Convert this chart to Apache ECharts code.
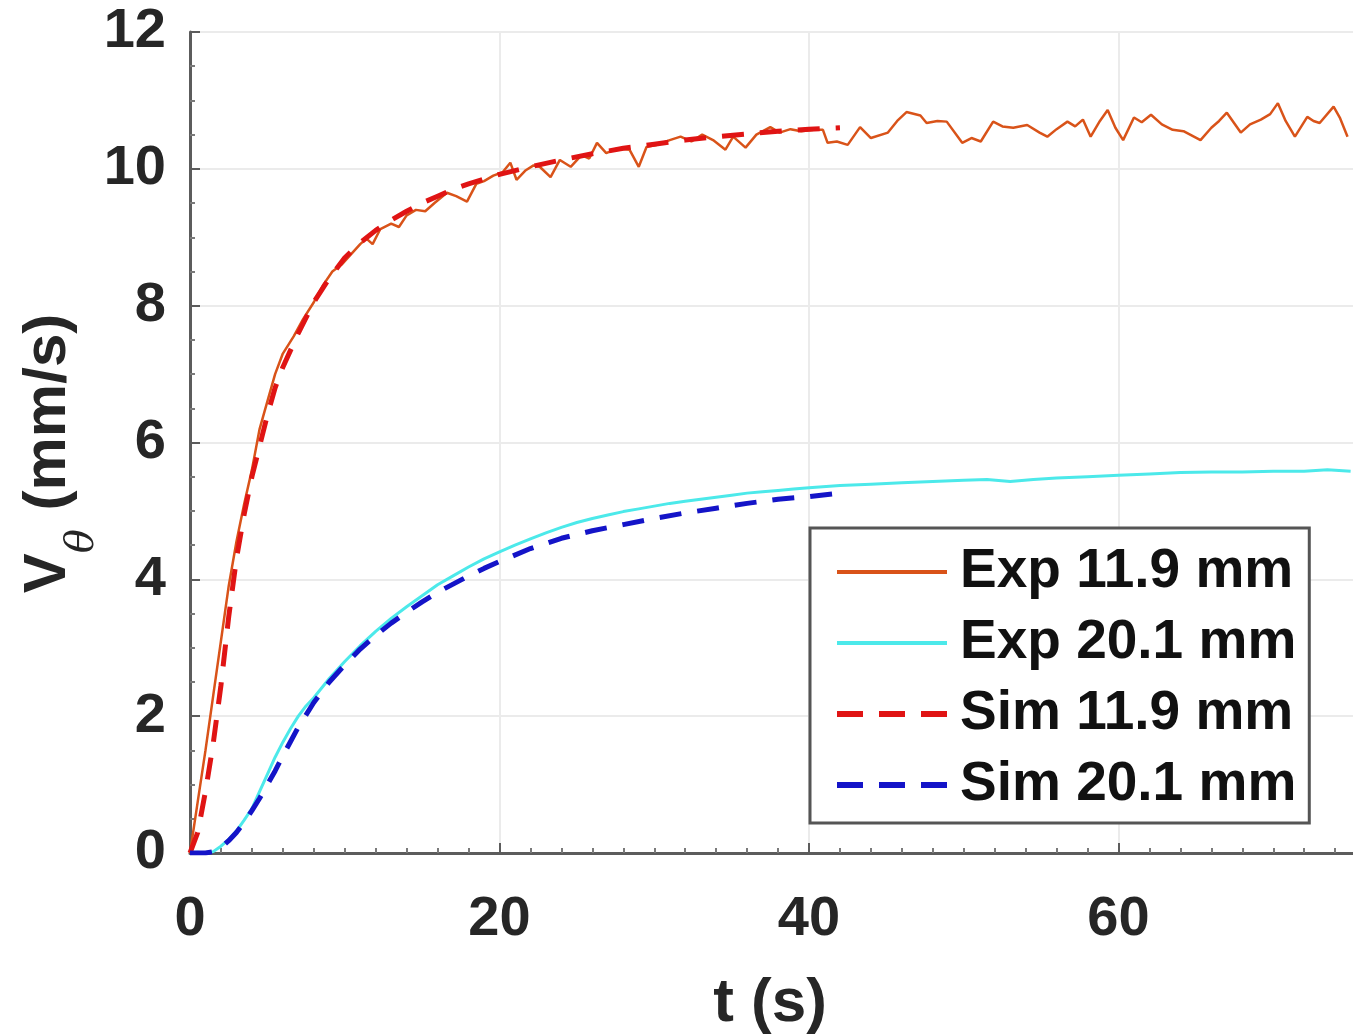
<!DOCTYPE html>
<html>
<head>
<meta charset="utf-8">
<script src="https://cdn.jsdelivr.net/npm/echarts@6/dist/echarts.min.js"></script>
<style>
  html, body { margin: 0; padding: 0; background: #ffffff; }
  #chart { width: 1353px; height: 1034px; }
</style>
</head>
<body>
<div id="chart"></div>
<script>
// Azimuthal velocity V_theta vs time at two radial positions

const seriesNames = ['Exp 11.9 mm', 'Exp 20.1 mm', 'Sim 11.9 mm', 'Sim 20.1 mm'];

// Measured, r = 11.9 mm
const exp119T = [0, 0.5, 1.0, 1.5, 2.0, 2.5, 3.0, 3.5, 4.0, 4.5, 5.0, 5.5, 6.0, 6.7, 7.3, 8.0, 8.6, 9.2, 9.8, 10.4,
  11.0, 11.4, 11.8, 12.3, 13.0, 13.5, 14.0, 14.6, 15.2, 15.8, 16.6, 17.2, 17.9, 18.5, 19.0, 19.6, 20.2, 20.7, 21.1, 21.7,
  22.2, 22.6, 23.3, 23.9, 24.6, 25.3, 25.8, 26.3, 26.9, 27.6, 28.4, 29.0, 29.5, 30.2, 31.0, 31.7, 32.4, 33.1, 33.8, 34.6,
  35.1, 35.9, 36.6, 37.5, 38.1, 38.8, 39.5, 40.3, 40.9, 41.2, 41.8, 42.5, 43.3, 44.0, 45.1, 45.7, 46.3, 47.2, 47.6, 48.3,
  48.9, 49.9, 50.5, 51.1, 51.9, 52.5, 53.2, 54.1, 54.9, 55.4, 56.0, 56.7, 57.2, 57.7, 58.2, 58.8, 59.3, 59.8, 60.3, 61.0,
  61.5, 62.1, 62.8, 63.5, 64.2, 65.3, 66.0, 66.5, 67.0, 67.9, 68.5, 69.2, 69.8, 70.3, 70.8, 71.4, 72.2, 72.6, 73.0, 73.9,
  74.3, 74.8];
const exp119V = [0, 0.75, 1.5, 2.3, 3.1, 3.9, 4.55, 5.1, 5.6, 6.2, 6.6, 7.0, 7.3, 7.55, 7.8, 8.05, 8.3, 8.5, 8.6, 8.75,
  8.9, 8.98, 8.9, 9.12, 9.2, 9.15, 9.32, 9.4, 9.38, 9.5, 9.65, 9.6, 9.52, 9.78, 9.82, 9.9, 9.95, 10.09, 9.84, 9.98,
  10.05, 10.03, 9.88, 10.13, 10.03, 10.2, 10.15, 10.38, 10.23, 10.3, 10.28, 10.03, 10.32, 10.35, 10.42, 10.47, 10.4, 10.5, 10.42, 10.28,
  10.47, 10.31, 10.5, 10.61, 10.53, 10.58, 10.55, 10.57, 10.57, 10.38, 10.4, 10.35, 10.61, 10.45, 10.53, 10.7, 10.83, 10.78, 10.67, 10.7,
  10.69, 10.38, 10.45, 10.4, 10.69, 10.62, 10.6, 10.64, 10.53, 10.47, 10.58, 10.69, 10.62, 10.72, 10.47, 10.7, 10.86, 10.6, 10.42, 10.75,
  10.68, 10.79, 10.65, 10.57, 10.55, 10.42, 10.6, 10.7, 10.82, 10.53, 10.65, 10.72, 10.8, 10.96, 10.7, 10.47, 10.76, 10.7, 10.67, 10.91,
  10.75, 10.47];

// Measured, r = 20.1 mm
const exp201T = [0, 0.5, 1.0, 1.5, 2.0, 2.5, 3.0, 3.5, 4.0, 4.5, 5.0, 5.5, 6.0, 6.5, 7.0, 7.5, 8.0, 9.0, 10.0, 11.0,
  12.0, 13.0, 14.0, 15.0, 16.0, 17.0, 18.0, 19.0, 20.0, 21.0, 22.0, 23.0, 24.0, 25.0, 26.0, 27.0, 28.0, 29.0, 30.0, 31.0,
  32.0, 33.0, 34.0, 35.0, 36.0, 37.0, 38.0, 39.0, 40.0, 42.0, 44.0, 46.0, 48.0, 50.0, 51.5, 53.0, 54.5, 56.0, 58.0, 60.0,
  62.0, 64.0, 66.0, 68.0, 70.0, 72.0, 73.5, 75.0];
const exp201V = [0, 0.01, 0, 0.02, 0.1, 0.2, 0.32, 0.48, 0.65, 0.9, 1.15, 1.4, 1.62, 1.82, 2.0, 2.15, 2.27, 2.55, 2.8, 3.03,
  3.24, 3.43, 3.6, 3.76, 3.92, 4.05, 4.18, 4.3, 4.4, 4.5, 4.59, 4.68, 4.76, 4.83, 4.89, 4.94, 4.99, 5.03, 5.07, 5.11,
  5.14, 5.17, 5.2, 5.23, 5.26, 5.28, 5.3, 5.32, 5.34, 5.37, 5.39, 5.41, 5.43, 5.45, 5.46, 5.43, 5.46, 5.48, 5.5, 5.52,
  5.54, 5.56, 5.57, 5.57, 5.58, 5.58, 5.6, 5.58];

// Simulated, r = 11.9 mm
const sim119T = [0, 0.5, 1.0, 1.5, 2.0, 2.5, 3.0, 3.5, 4.0, 4.5, 5.0, 5.5, 6.0, 7.0, 8.0, 9.0, 10.0, 11.0, 12.0, 13.0,
  14.0, 15.0, 16.0, 17.0, 18.0, 19.0, 20.0, 22.0, 24.0, 26.0, 28.0, 30.0, 32.0, 34.0, 36.0, 38.0, 40.0, 42.0];
const sim119V = [0, 0.3, 0.9, 1.6, 2.45, 3.45, 4.3, 4.95, 5.5, 5.95, 6.4, 6.8, 7.1, 7.6, 8.05, 8.4, 8.7, 8.92, 9.1, 9.25,
  9.38, 9.5, 9.6, 9.7, 9.78, 9.85, 9.92, 10.03, 10.13, 10.22, 10.3, 10.36, 10.42, 10.47, 10.51, 10.55, 10.58, 10.6];

// Simulated, r = 20.1 mm
const sim201T = [0, 1.0, 1.5, 2.0, 2.5, 3.0, 3.5, 4.0, 4.5, 5.0, 5.5, 6.0, 6.5, 7.0, 7.5, 8.0, 9.0, 10.0, 11.0, 12.0,
  13.0, 14.0, 15.0, 16.0, 17.0, 18.0, 19.0, 20.0, 22.0, 24.0, 26.0, 28.0, 30.0, 32.0, 34.0, 36.0, 38.0, 40.0, 42.0];
const sim201V = [0, 0, 0.02, 0.08, 0.18, 0.3, 0.45, 0.62, 0.8, 1.0, 1.2, 1.42, 1.63, 1.84, 2.02, 2.2, 2.5, 2.75, 2.98, 3.18,
  3.36, 3.52, 3.67, 3.81, 3.93, 4.05, 4.16, 4.26, 4.45, 4.6, 4.71, 4.8, 4.89, 4.97, 5.04, 5.11, 5.17, 5.21, 5.26];

const pairs = (t, v) => t.map((x, i) => [x, v[i]]);

const FONT = '"Liberation Sans", Arial, sans-serif';
const AXIS_COLOR = '#5c5c5c';
const TEXT_COLOR = '#262626';
const COLORS = ['#d95319', '#4ce9ea', '#e01414', '#1414c8'];

const chart = echarts.init(document.getElementById('chart'), null, { renderer: 'canvas' });

const axisCommon = {
  type: 'value',
  axisLine: { show: true, lineStyle: { color: AXIS_COLOR, width: 3 } },
  axisTick: { show: true, inside: true, length: 10, lineStyle: { color: AXIS_COLOR, width: 2 } },
  minorTick: { show: true, length: 5, lineStyle: { color: '#7a7a7a', width: 2 } },
  splitLine: { show: true, lineStyle: { color: '#ebebeb', width: 2 } },
  axisLabel: { color: TEXT_COLOR, fontFamily: FONT, fontWeight: 'bold', fontSize: 56 },
  nameLocation: 'middle',
  nameMoveOverlap: false,
};

// x axis runs past the right edge of the canvas so that the visible part ends near t = 75
chart.setOption({
  animation: false,
  backgroundColor: '#ffffff',
  grid: { left: 190, right: -75, top: 32, bottom: 181, containLabel: false, outerBoundsMode: 'none' },
  xAxis: Object.assign({}, axisCommon, {
    min: 0, max: 80, interval: 20,
    minorTick: Object.assign({}, axisCommon.minorTick, { splitNumber: 10 }),
    axisLabel: Object.assign({}, axisCommon.axisLabel, { margin: 39, lineHeight: 56 }),
    name: 't (s)',
    nameGap: 120,
    nameTextStyle: { color: TEXT_COLOR, fontFamily: FONT, fontWeight: 'bold', fontSize: 62, padding: [0, 78, 0, 0] },
  }),
  yAxis: Object.assign({}, axisCommon, {
    min: 0, max: 12, interval: 2,
    minorTick: Object.assign({}, axisCommon.minorTick, { splitNumber: 4 }),
    axisLabel: Object.assign({}, axisCommon.axisLabel, { margin: 24 }),
    name: '{v|V}{s|θ}{v| (mm/s)}',
    nameGap: 112,
    nameTextStyle: {
      color: TEXT_COLOR,
      padding: [0, 22, 0, 0],
      rich: {
        v: { fontFamily: FONT, fontWeight: 'bold', fontSize: 60, lineHeight: 60, color: TEXT_COLOR },
        s: { fontFamily: '"DejaVu Serif", "Liberation Serif", serif', fontStyle: 'italic', fontSize: 40, lineHeight: 40,
             padding: [70, 2, 0, 0], color: TEXT_COLOR },
      },
    },
  }),
  legend: {
    orient: 'vertical',
    left: 810, top: 528,
    padding: [14, 13, 8, 24],
    itemGap: 11,
    itemWidth: 110,
    itemHeight: 2,
    backgroundColor: '#ffffff',
    borderColor: '#555555',
    borderWidth: 3,
    borderRadius: 0,
    itemStyle: { opacity: 0 },
    textStyle: { color: '#111111', fontFamily: FONT, fontWeight: 'bold', fontSize: 55, lineHeight: 60, padding: [0, 0, 0, 8] },
    data: [
      { name: seriesNames[0], lineStyle: { width: 4 } },
      { name: seriesNames[1], lineStyle: { width: 4 } },
      { name: seriesNames[2], lineStyle: { width: 6, type: [26, 16] } },
      { name: seriesNames[3], lineStyle: { width: 6, type: [26, 16] } },
    ],
  },
  series: [
    {
      name: seriesNames[0], type: 'line', data: pairs(exp119T, exp119V),
      showSymbol: false, symbol: 'none', clip: true,
      lineStyle: { color: COLORS[0], width: 2.5 }, itemStyle: { color: COLORS[0] },
    },
    {
      name: seriesNames[1], type: 'line', data: pairs(exp201T, exp201V),
      showSymbol: false, symbol: 'none', clip: true,
      lineStyle: { color: COLORS[1], width: 3 }, itemStyle: { color: COLORS[1] },
    },
    {
      name: seriesNames[2], type: 'line', data: pairs(sim119T, sim119V),
      showSymbol: false, symbol: 'none', clip: true,
      lineStyle: { color: COLORS[2], width: 5, type: [22, 16] }, itemStyle: { color: COLORS[2] },
    },
    {
      name: seriesNames[3], type: 'line', data: pairs(sim201T, sim201V),
      showSymbol: false, symbol: 'none', clip: true,
      lineStyle: { color: COLORS[3], width: 5, type: [22, 16] }, itemStyle: { color: COLORS[3] },
    },
  ],
});
</script>
</body>
</html>
